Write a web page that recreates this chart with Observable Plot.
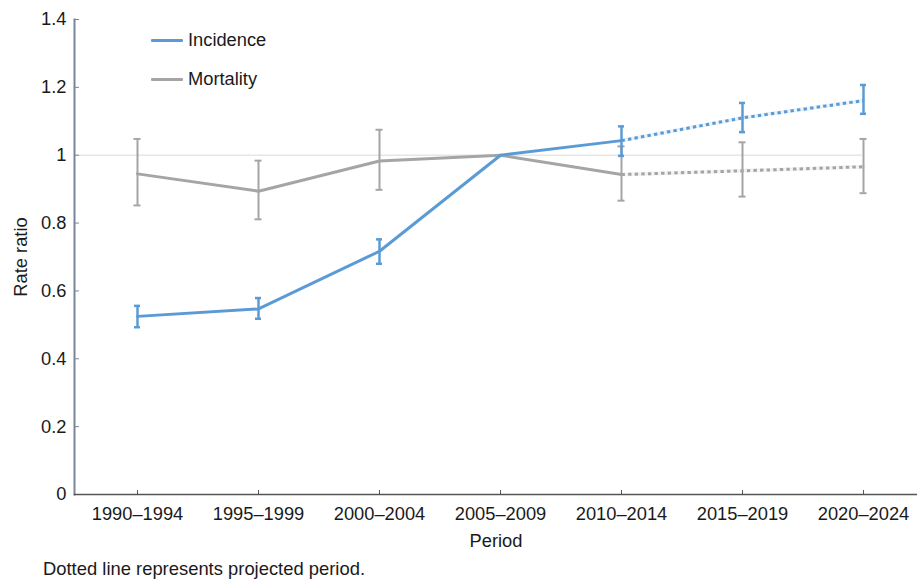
<!DOCTYPE html>
<html>
<head>
<meta charset="utf-8">
<script src="https://cdn.jsdelivr.net/npm/d3@7"></script>
<script src="https://cdn.jsdelivr.net/npm/@observablehq/plot@0.6"></script>
<style>
  html, body { margin: 0; padding: 0; background: #fff; }
  body { font-family: "Liberation Sans", Arial, sans-serif; color: #1a1a1a; }
  #wrap { position: relative; width: 917px; }
  #legend { position: absolute; left: 151px; top: 27px; font-size: 18.3px; }
  .item { display: flex; align-items: center; height: 26px; margin-bottom: 13px; }
  .swatch { width: 32px; height: 3px; margin-right: 5px; border-radius: 1px; }
  #caption { font-size: 18.4px; margin: 3px 0 0 43px; line-height: 22px; }
</style>
</head>
<body>
<div id="wrap">
  <div id="chart"></div>
  <div id="legend"></div>
  <div id="caption">Dotted line represents projected period.</div>
</div>
<script>
const periods = ["1990–1994","1995–1999","2000–2004","2005–2009","2010–2014","2015–2019","2020–2024"];
const incidence = [0.525, 0.547, 0.717, 1.0, 1.043, 1.110, 1.161];
const incidenceLow = [0.493, 0.518, 0.680, null, 0.998, 1.068, 1.122];
const incidenceHigh = [0.556, 0.579, 0.752, null, 1.085, 1.154, 1.207];
const mortality = [0.945, 0.894, 0.983, 1.0, 0.943, 0.954, 0.966];
const mortalityLow = [0.852, 0.811, 0.898, null, 0.866, 0.878, 0.888];
const mortalityHigh = [1.048, 0.984, 1.075, null, 1.026, 1.038, 1.048];
const firstProjected = 4; // dotted from 2010–2014 onward
const yTicks = [0, 0.2, 0.4, 0.6, 0.8, 1, 1.2, 1.4];
const seriesNames = ["Incidence", "Mortality"];
const colors = ["#5b9bd5", "#a5a5a5"];

function rows(vals, lo, hi) {
  return periods.map((p, i) => ({period: p, value: vals[i], low: lo[i], high: hi[i]}));
}
const inc = rows(incidence, incidenceLow, incidenceHigh);
const mort = rows(mortality, mortalityLow, mortalityHigh);
const incBars = inc.filter(d => d.low != null);
const mortBars = mort.filter(d => d.low != null);

function seriesMarks(data, bars, color, barWidth, capInset) {
  return [
    Plot.ruleX(bars, {x: "period", y1: "low", y2: "high", stroke: color, strokeWidth: barWidth}),
    Plot.ruleY(bars, {x1: "period", x2: "period", y: "low", stroke: color, strokeWidth: barWidth, insetLeft: -capInset, insetRight: -capInset}),
    Plot.ruleY(bars, {x1: "period", x2: "period", y: "high", stroke: color, strokeWidth: barWidth, insetLeft: -capInset, insetRight: -capInset}),
    Plot.line(data.slice(0, firstProjected + 1), {x: "period", y: "value", stroke: color, strokeWidth: 3}),
    Plot.line(data.slice(firstProjected), {x: "period", y: "value", stroke: color, strokeWidth: 4, strokeOpacity: 0.12}),
    Plot.line(data.slice(firstProjected), {x: "period", y: "value", stroke: color, strokeWidth: 3, strokeDasharray: "3.4,3.2", strokeLinecap: "butt"})
  ];
}

const chart = Plot.plot({
  width: 917,
  height: 555,
  marginLeft: 74,
  marginRight: 0,
  marginTop: 19,
  marginBottom: 61,
  style: {fontFamily: "'Liberation Sans', Arial, sans-serif", fontSize: "18.3px", color: "#1a1a1a", background: "#fff"},
  x: {type: "point", domain: periods, range: [74, 926.5], padding: 0.5},
  y: {domain: [0, 1.4]},
  marks: [
    Plot.ruleY([1], {stroke: "#e6e6e6", strokeWidth: 1.5, insetRight: 55}),
    ...seriesMarks(mort, mortBars, colors[1], 2, 3.5),
    ...seriesMarks(inc, incBars, colors[0], 2.5, 3),
    Plot.axisY({ticks: yTicks, tickSize: 5, dx: 5, stroke: "#7a869a", tickFormat: () => "", label: null}),
    Plot.axisY({ticks: yTicks, tickSize: 0, tickPadding: 8, tickFormat: d => String(+d.toFixed(1)),
      label: "Rate ratio", labelAnchor: "center", labelOffset: 61, labelArrow: "none"}),
    Plot.axisX({ticks: periods, tickSize: 4, dy: -4, stroke: "#555", tickFormat: () => "", label: null}),
    Plot.axisX({ticks: periods, tickSize: 0, tickPadding: 12, label: "Period", labelAnchor: "center", labelOffset: 52, labelArrow: "none"}),
    Plot.frame({anchor: "left", stroke: "#7a869a", strokeWidth: 2}),
    Plot.frame({anchor: "bottom", stroke: "#555", strokeWidth: 1.5})
  ]
});
document.getElementById("chart").appendChild(chart);

const legend = document.getElementById("legend");
seriesNames.forEach((name, i) => {
  const item = document.createElement("div");
  item.className = "item";
  const sw = document.createElement("div");
  sw.className = "swatch";
  sw.style.background = colors[i];
  const t = document.createElement("span");
  t.textContent = name;
  item.appendChild(sw);
  item.appendChild(t);
  legend.appendChild(item);
});
</script>
</body>
</html>
